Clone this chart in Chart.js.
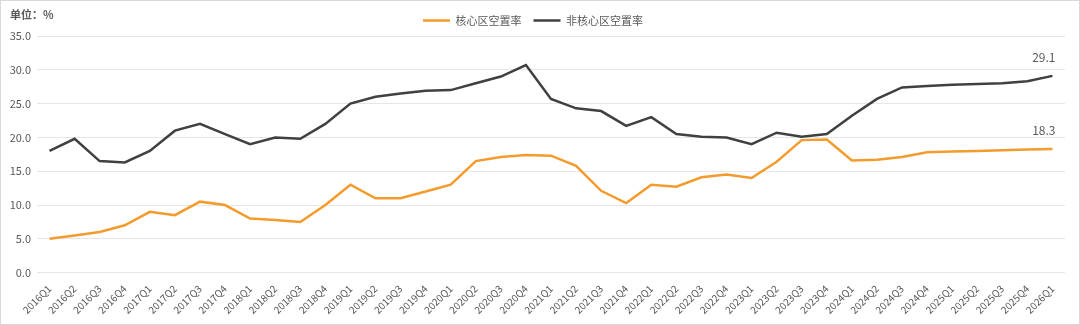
<!DOCTYPE html>
<html>
<head>
<meta charset="utf-8">
<script src="https://cdn.jsdelivr.net/npm/chart.js@4/dist/chart.umd.min.js"></script>
<style>
    html, body { margin: 0; padding: 0; background: #fff; }
    #wrap { position: relative; width: 1078px; height: 323px; border: 1px solid #d9d9d9; }
    #unit { position: absolute; left: 9px; top: 5px; font: bold 11px "Noto Sans CJK SC", sans-serif; color: #595959; }
</style>
</head>
<body>
<div id="wrap">
    <div id="unit">单位：%</div>
    <canvas id="vacancyChart" width="1078" height="323"></canvas>
</div>
<script>
const quarters = [
    '2016Q1', '2016Q2', '2016Q3', '2016Q4', '2017Q1', '2017Q2', '2017Q3', '2017Q4',
    '2018Q1', '2018Q2', '2018Q3', '2018Q4', '2019Q1', '2019Q2', '2019Q3', '2019Q4',
    '2020Q1', '2020Q2', '2020Q3', '2020Q4', '2021Q1', '2021Q2', '2021Q3', '2021Q4',
    '2022Q1', '2022Q2', '2022Q3', '2022Q4', '2023Q1', '2023Q2', '2023Q3', '2023Q4',
    '2024Q1', '2024Q2', '2024Q3', '2024Q4', '2025Q1', '2025Q2', '2025Q3', '2025Q4',
    '2026Q1'
];

// 核心区空置率
const coreRate = [
    5.0, 5.5, 6.0, 7.0, 9.0, 8.5, 10.5, 10.0,
    8.0, 7.8, 7.5, 10.0, 13.0, 11.0, 11.0, 12.0,
    13.0, 16.5, 17.1, 17.4, 17.3, 15.8, 12.1, 10.3,
    13.0, 12.7, 14.1, 14.5, 14.0, 16.4, 19.6, 19.7,
    16.6, 16.7, 17.1, 17.8, 17.9, 18.0, 18.1, 18.2,
    18.3
];

// 非核心区空置率
const nonCoreRate = [
    18.0, 19.8, 16.5, 16.3, 18.0, 21.0, 22.0, 20.5,
    19.0, 20.0, 19.8, 22.0, 25.0, 26.0, 26.5, 26.9,
    27.0, 28.0, 29.0, 30.7, 25.7, 24.3, 23.9, 21.7,
    23.0, 20.5, 20.1, 20.0, 19.0, 20.7, 20.1, 20.5,
    23.2, 25.7, 27.4, 27.6, 27.8, 27.9, 28.0, 28.3,
    29.1
];

const yTicks = [0, 5, 10, 15, 20, 25, 30, 35];

const FONT = '"Noto Sans CJK SC", "Noto Sans", sans-serif';

// label the last point of each line
const lastValueLabels = {
    id: 'lastValueLabels',
    afterDatasetsDraw(chart) {
        const ctx = chart.ctx;
        ctx.save();
        ctx.font = `12px ${FONT}`;
        ctx.fillStyle = '#595959';
        ctx.textAlign = 'right';
        ctx.textBaseline = 'bottom';
        chart.data.datasets.forEach((ds, i) => {
            const meta = chart.getDatasetMeta(i);
            const pt = meta.data[meta.data.length - 1];
            const v = ds.data[ds.data.length - 1];
            ctx.fillText(v.toFixed(1), pt.x + 3, pt.y - 12);
        });
        ctx.restore();
    }
};

const ctx = document.getElementById('vacancyChart').getContext('2d');
new Chart(ctx, {
    type: 'line',
    data: {
        labels: quarters,
        datasets: [
            {
                label: '核心区空置率',
                data: coreRate,
                borderColor: '#F39B2C',
                backgroundColor: '#F39B2C',
                borderWidth: 2.5,
                pointRadius: 0,
                tension: 0
            },
            {
                label: '非核心区空置率',
                data: nonCoreRate,
                borderColor: '#404040',
                backgroundColor: '#404040',
                borderWidth: 2.5,
                pointRadius: 0,
                tension: 0
            }
        ]
    },
    options: {
        responsive: false,
        animation: false,
        layout: { padding: { left: 0, right: 14, top: 2, bottom: 6 } },
        plugins: {
            legend: {
                position: 'top',
                labels: {
                    usePointStyle: true,
                    pointStyle: 'line',
                    pointStyleWidth: 27,
                    boxHeight: 10,
                    padding: 12,
                    color: '#595959',
                    font: { family: FONT, size: 11 }
                }
            },
            tooltip: { enabled: false }
        },
        scales: {
            x: {
                offset: true,
                grid: { display: false },
                border: { display: false },
                ticks: {
                    autoSkip: false,
                    maxRotation: 45,
                    minRotation: 45,
                    color: '#595959',
                    padding: 2,
                    font: { family: FONT, size: 10 }
                }
            },
            y: {
                min: 0,
                max: 35,
                afterBuildTicks: scale => { scale.ticks = yTicks.map(v => ({ value: v })); },
                afterFit: scale => { scale.width = 36; },
                grid: { color: '#e6e6e6', drawTicks: false },
                border: { display: false },
                ticks: {
                    color: '#595959',
                    padding: 6,
                    font: { family: FONT, size: 11 },
                    callback: v => v.toFixed(1)
                }
            }
        }
    },
    plugins: [lastValueLabels]
});
</script>
</body>
</html>
